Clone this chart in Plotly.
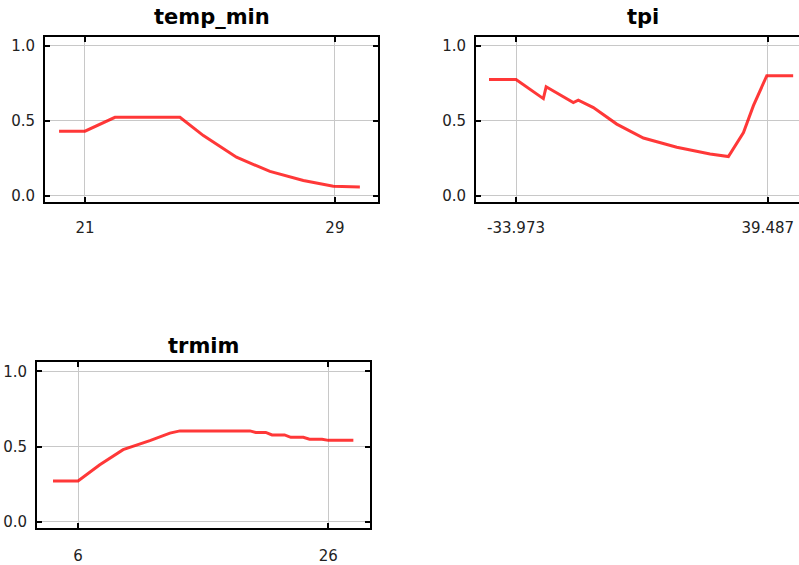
import plotly.graph_objects as go

W, H = 799, 565

# ---- data ----
temp_min_x = [20.17, 21.0, 21.96, 24.04, 24.79, 25.85, 26.92, 27.99, 28.95, 29.8]
temp_min_y = [0.43, 0.43, 0.522, 0.522, 0.40, 0.256, 0.161, 0.101, 0.062, 0.058]

tpi_x = [-41.85, -33.973, -26.0, -25.18, -17.25, -15.8, -11.4, -4.58, 3.2, 12.94, 22.66, 28.0, 32.4, 35.3, 39.2, 46.9]
tpi_y = [0.775, 0.775, 0.647, 0.726, 0.62, 0.636, 0.587, 0.477, 0.384, 0.322, 0.278, 0.26, 0.42, 0.60, 0.80, 0.80]

trmim_x = [4.0, 6.0, 7.74, 9.6, 11.74, 13.34, 14.14, 19.74, 20.2, 21.0, 21.5, 22.5, 23.0, 24.0, 24.5, 25.5, 26.0, 28.0]
trmim_y = [0.272, 0.272, 0.38, 0.48, 0.54, 0.59, 0.605, 0.605, 0.595, 0.595, 0.578, 0.578, 0.562, 0.562, 0.55, 0.55, 0.542, 0.542]

titles = ["temp_min", "tpi", "trmim"]
xticks = [[21, 29], [-33.973, 39.487], [6, 26]]
xticktext = [["21", "29"], ["-33.973", "39.487"], ["6", "26"]]
yticks = [0.0, 0.5, 1.0]
yticktext = ["0.0", "0.5", "1.0"]

# ---- layout geometry (pixels) ----
boxes = [(45, 378, 37, 203), (476, 799, 37, 203), (37, 370, 365, 531.7)]
xranges = [[19.72, 30.38], [-45.65, 48.6], [2.72, 29.33]]
yrange = [-0.04, 1.06]
standoffs = [11, 11, 13]

fig = go.Figure()
series = [(temp_min_x, temp_min_y), (tpi_x, tpi_y), (trmim_x, trmim_y)]
for i, (xs, ys) in enumerate(series):
    suffix = "" if i == 0 else str(i + 1)
    fig.add_trace(go.Scatter(x=xs, y=ys, mode="lines",
                             line=dict(color="rgba(255,0,0,0.78)", width=3),
                             xaxis="x" + suffix, yaxis="y" + suffix,
                             showlegend=False, hoverinfo="skip"))

font_tick = dict(family="DejaVu Sans, sans-serif", size=15, color="#222")
layout = dict(width=W, height=H, margin=dict(l=0, r=0, t=0, b=0),
              paper_bgcolor="white", plot_bgcolor="white", showlegend=False)
annotations = []
for i, (l, r, t, b) in enumerate(boxes):
    suffix = "" if i == 0 else str(i + 1)
    xa = dict(domain=[l / W, min(r / W, 1.0)], range=xranges[i],
              anchor="y" + suffix, tickvals=xticks[i], ticktext=xticktext[i],
              showgrid=True, gridcolor="#c8c8c8", gridwidth=1,
              showline=True, linecolor="black", linewidth=2, mirror="ticks",
              ticks="inside", ticklen=5, tickwidth=1.5, tickcolor="black",
              tickfont=font_tick, zeroline=False, ticklabelstandoff=standoffs[i])
    ya = dict(domain=[1 - b / H, 1 - t / H], range=yrange,
              anchor="x" + suffix, tickvals=yticks, ticktext=yticktext,
              showgrid=True, gridcolor="#c8c8c8", gridwidth=1,
              showline=True, linecolor="black", linewidth=2,
              mirror=("ticks" if i != 1 else False),
              ticks="inside", ticklen=5, tickwidth=1.5, tickcolor="black",
              tickfont=font_tick, zeroline=False, ticklabelstandoff=5)
    layout["xaxis" + suffix] = xa
    layout["yaxis" + suffix] = ya
    cx = (l + (r if i != 1 else 809)) / 2
    annotations.append(dict(text="<b>%s</b>" % titles[i], x=cx / W, y=1 - (t - 20 + (3 if i == 2 else 0)) / H,
                            xref="paper", yref="paper", showarrow=False,
                            xanchor="center", yanchor="middle",
                            font=dict(family="DejaVu Sans, sans-serif", size=21, color="black")))
layout["annotations"] = annotations
fig.update_layout(**layout)
fig.write_html("out.html")
